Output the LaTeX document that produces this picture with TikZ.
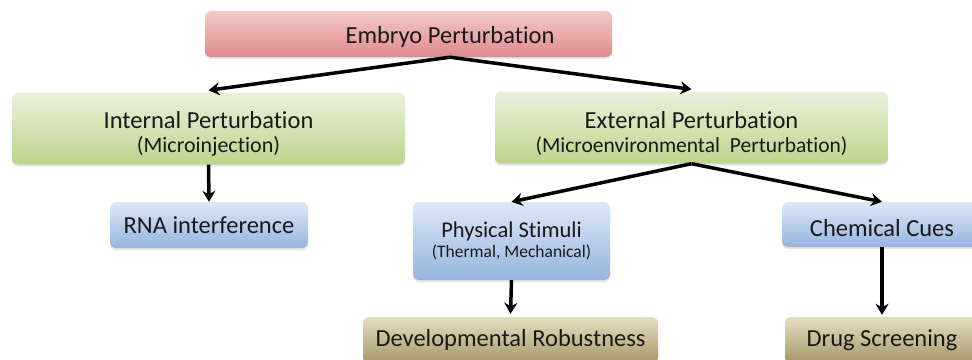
\documentclass[tikz,border=0pt]{standalone}
\usepackage{fontspec}
\setmainfont{Carlito}[Ligatures=NoCommon]
\usetikzlibrary{positioning}
\usetikzlibrary{arrows.meta}
\usetikzlibrary{shadows}
\definecolor{pinktop}{HTML}{F5CACA}
\definecolor{pinkbot}{HTML}{DE8A8C}
\definecolor{greentop}{HTML}{EBF1DC}
\definecolor{greenbot}{HTML}{BDD58C}
\definecolor{bluetop}{HTML}{DEE8F5}
\definecolor{bluebot}{HTML}{96B5DF}
\definecolor{tantop}{HTML}{E6DEC2}
\definecolor{tanbot}{HTML}{A6966A}
\tikzset{box/.style={rounded corners=6pt,inner sep=0pt,align=center,text=black!90,font=\fontsize{24.5}{25}\selectfont,drop shadow={shadow xshift=0pt,shadow yshift=-2pt,opacity=0.2}}}
\tikzset{pinkbox/.style={box,top color=pinktop,bottom color=pinkbot}}
\tikzset{greenbox/.style={box,top color=greentop,bottom color=greenbot,minimum width=393pt,minimum height=72pt}}
\tikzset{bluebox/.style={box,top color=bluetop,bottom color=bluebot}}
\tikzset{tanbox/.style={box,top color=tantop,bottom color=tanbot,minimum height=46pt}}
\tikzset{arr/.style={->,line width=3.5pt}}
\tikzset{>={Stealth[length=11pt,width=13pt]}}

\begin{document}
\begin{tikzpicture}[x=1pt,y=-1pt]
        \clip (0,0) rectangle (972,359);
        % top level
        \node[pinkbox, minimum width=407pt, minimum height=46pt] (emb) at (408.5,34) {};
        \node[font=\fontsize{24.5}{25}\selectfont, text=black!90] (embtxt) at (450,37) {Embryo Perturbation};
        % second level
        \node[greenbox] (int) at (208.5,128.5) {\rule{0pt}{28pt}Internal Perturbation\\[-1pt]{\fontsize{22}{24}\selectfont(Microinjection)}};
        \node[greenbox] (ext) at (691.5,127.5) {\rule{0pt}{28pt}External Perturbation\\[-1pt]{\fontsize{21.5}{24}\selectfont(Microenvironmental\ \ Perturbation)}};
        % third level
        \node[bluebox, minimum width=198pt, minimum height=46pt] (rna) at (209,225) {RNA interference};
        \node[bluebox, minimum width=197pt, minimum height=78pt] (phys) at (511.5,241) {{\fontsize{22.5}{24}\selectfont Physical Stimuli}\\[-5pt]{\fontsize{17.5}{20}\selectfont(Thermal, Mechanical)}};
        \node[bluebox, minimum width=200pt, minimum height=45pt, text height=25pt] (chem) at (882,224.5) {Chemical Cues};
        % bottom level
        \node[tanbox, minimum width=295pt] (dev) at (510.5,340) {Developmental Robustness};
        \node[tanbox, minimum width=194pt] (drug) at (882,340) {Drug Screening};
        % arrows
        \draw[arr] (embtxt.center |- emb.south) -- ([yshift=2pt]int.north);
        \draw[arr] (embtxt.center |- emb.south) -- ([yshift=2pt]ext.north);
        \draw[arr] (int.south) -- (rna.north);
        \draw[arr] (ext.south) -- (phys.north);
        \draw[arr] (ext.south) -- (chem.north);
        \draw[arr] (phys.south) -- ([yshift=3pt]dev.north);
        \draw[arr] (chem.south) -- ([yshift=2pt]drug.north);
    \end{tikzpicture}
\end{document}
